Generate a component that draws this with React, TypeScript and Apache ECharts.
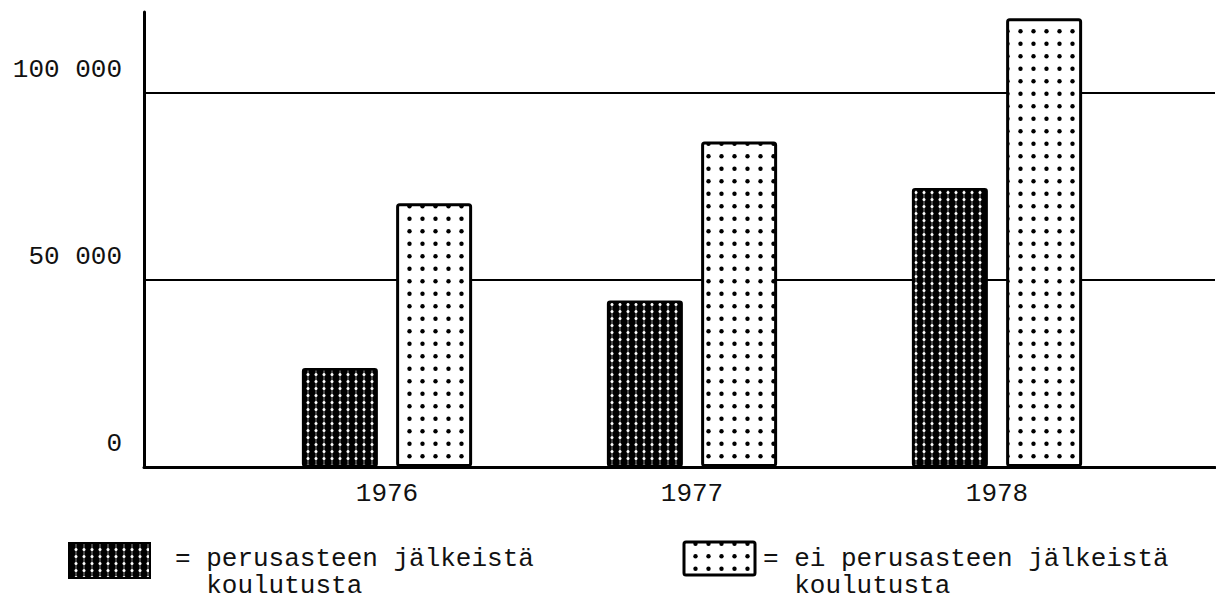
import React, { useEffect, useRef } from 'react';
import * as echarts from 'echarts';

const years = ['1976', '1977', '1978'];
const withPostBasic = [26500, 44500, 74600];
const withoutPostBasic = [70500, 87000, 120000];
const yTickValues = [0, 50000, 100000];
const legendTexts = ['= perusasteen jälkeistä\n  koulutusta', '= ei perusasteen jälkeistä\n  koulutusta'];

const FONT = '"Liberation Mono", "DejaVu Sans Mono", monospace';
const Y_MAX = 121650;

function darkTile() {
  const c = document.createElement('canvas');
  c.width = 8;
  c.height = 7;
  const g = c.getContext('2d')!;
  g.fillStyle = '#000';
  g.fillRect(0, 0, 8, 7);
  g.fillStyle = 'rgba(255,255,255,0.55)';
  g.fillRect(3.5, 0, 1, 7);
  g.fillStyle = '#fff';
  g.beginPath();
  g.arc(4, 3.5, 1.5, 0, Math.PI * 2);
  g.fill();
  return c;
}

function lightTile() {
  const c = document.createElement('canvas');
  c.width = 13;
  c.height = 25;
  const g = c.getContext('2d')!;
  g.fillStyle = '#fff';
  g.fillRect(0, 0, 13, 25);
  g.fillStyle = '#000';
  [6.25, 18.75].forEach((y) => {
    g.beginPath();
    g.arc(6.5, y, 2.2, 0, Math.PI * 2);
    g.fill();
  });
  return c;
}

function fmt(v: number) {
  if (v === 0) return '0';
  return `${Math.floor(v / 1000)} 000`;
}

export default function App() {
  const ref = useRef<HTMLDivElement>(null);
  useEffect(() => {
    if (!ref.current) return;
    const chart = echarts.init(ref.current, null, { renderer: 'svg' });
    const dark: any = { image: darkTile().toDataURL(), repeat: 'repeat', imageWidth: 8, imageHeight: 7 };
    const light: any = { image: lightTile().toDataURL(), repeat: 'repeat', imageWidth: 13, imageHeight: 25 };

    chart.setOption({
      animation: false,
      backgroundColor: '#fff',
      grid: [
        { left: 144, right: 9, top: 12, bottom: 136 },
        { left: 234.5, width: 915, top: 12, bottom: 136 },
      ],
      xAxis: [
        {
          gridIndex: 0,
          type: 'value',
          min: 0,
          max: 1,
          axisLine: { show: true, lineStyle: { color: '#000', width: 3 } },
          axisTick: { show: false },
          axisLabel: { show: false },
          splitLine: { show: false },
        },
        {
          gridIndex: 1,
          type: 'category',
          data: years,
          axisLine: { show: false },
          axisTick: { show: false },
          axisLabel: {
            fontFamily: FONT,
            fontSize: 26,
            color: '#111',
            lineHeight: 26,
            margin: 14,
          },
        },
      ],
      yAxis: [
        {
          gridIndex: 0,
          type: 'value',
          min: 0,
          max: Y_MAX,
          interval: 50000,
          axisLine: { show: true, lineStyle: { color: '#000', width: 3 } },
          axisTick: { show: false },
          axisLabel: {
            showMaxLabel: false,
            fontFamily: FONT,
            fontSize: 26,
            color: '#111',
            margin: 22,
            verticalAlign: 'bottom',
            lineHeight: 26,
            padding: [0, 0, 10, 0],
            formatter: (v: number) => (yTickValues.includes(v) ? fmt(v) : ''),
          },
          splitLine: {
            show: true,
            showMinLine: false,
            showMaxLine: false,
            lineStyle: { color: '#000', width: 2 },
          },
        },
        {
          gridIndex: 1,
          type: 'value',
          min: 0,
          max: Y_MAX,
          show: false,
          splitLine: { show: false },
        },
      ],
      series: [
        {
          type: 'bar',
          xAxisIndex: 1,
          yAxisIndex: 1,
          data: withPostBasic,
          barWidth: 76,
          barGap: '24%',
          itemStyle: { color: dark, borderColor: '#000', borderWidth: 2.5, borderRadius: 2 },
        },
        {
          type: 'bar',
          xAxisIndex: 1,
          yAxisIndex: 1,
          data: withoutPostBasic,
          barWidth: 76,
          barGap: '24%',
          itemStyle: { color: light, borderColor: '#000', borderWidth: 3, borderRadius: 2 },
        },
      ],
      graphic: [
        {
          type: 'rect',
          shape: { x: 69, y: 543, width: 81, height: 35 },
          style: { fill: dark, stroke: '#000', lineWidth: 2 },
        },
        {
          type: 'text',
          x: 175,
          y: 545,
          style: {
            text: legendTexts[0],
            fontFamily: FONT,
            fontSize: 26,
            lineHeight: 27,
            fill: '#111',
            verticalAlign: 'top',
          },
        },
        {
          type: 'rect',
          shape: { x: 684, y: 542, width: 71, height: 33, r: 2 },
          style: { fill: light, stroke: '#000', lineWidth: 3 },
        },
        {
          type: 'text',
          x: 763,
          y: 545,
          style: {
            text: legendTexts[1],
            fontFamily: FONT,
            fontSize: 26,
            lineHeight: 27,
            fill: '#111',
            verticalAlign: 'top',
          },
        },
      ],
    });
    return () => chart.dispose();
  }, []);
  return <div ref={ref} style={{ width: 1224, height: 603, margin: -8 }} />;
}
